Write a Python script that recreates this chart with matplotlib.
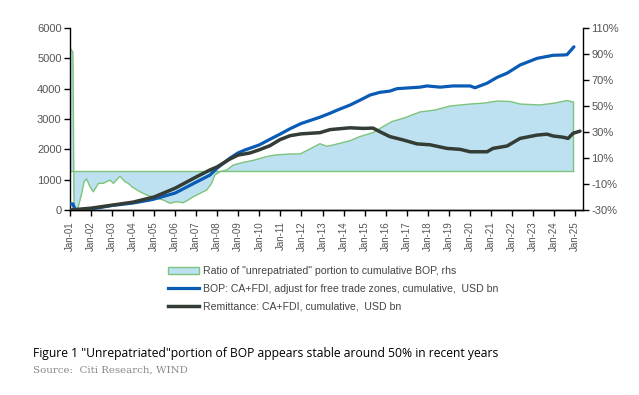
import matplotlib.pyplot as plt
from matplotlib.patches import Patch
from matplotlib.lines import Line2D

# values (decimal year, value)
ratio_t = [2001.00, 2001.14, 2001.19, 2001.33, 2001.38, 2001.56, 2001.67, 2001.79, 2001.95,
           2002.11, 2002.35, 2002.58, 2002.74, 2002.90, 2003.06, 2003.38, 2003.61, 2003.77,
           2003.93, 2004.33, 2004.65, 2005.12, 2005.43, 2005.75, 2006.07, 2006.38, 2006.62,
           2006.86, 2007.18, 2007.50, 2007.73, 2007.89, 2008.13, 2008.45, 2008.76, 2009.08,
           2009.32, 2009.79, 2010.27, 2010.74, 2011.46, 2011.93, 2012.41, 2012.88, 2013.21,
           2013.50, 2014.31, 2014.78, 2015.40, 2015.97, 2016.30, 2016.92, 2017.63, 2018.35,
           2019.06, 2020.01, 2020.72, 2021.29, 2021.91, 2022.39, 2023.34, 2024.05, 2024.62,
           2024.91]
ratio_pct = [94.6, 91.5, -26, -30, -28.5, -17, -8.2, -6.2, -12,
             -16, -9.5, -9.5, -8.2, -7, -9.5, -4, -8.2, -9.5,
             -12, -16, -18.5, -21, -22.3, -24.8, -23.6, -24.4, -22.3,
             -19.8, -17.2, -14.6, -9.5, -3, -0.5, 0.8, 4.6, 6,
             6.9, 8.5, 10.8, 12.3, 13.1, 13.1, 17.0, 21.0, 19.0,
             20, 23.3, 26.5, 29.5, 35.0, 38.0, 41.0, 45.4, 46.9,
             50, 51.5, 52.3, 53.8, 53.5, 51.5, 50.8, 52.3, 54.2,
             53.1]

bop_t = [2001.00, 2001.14, 2001.24, 2002.00, 2003.00, 2004.00, 2004.80, 2005.00, 2006.00,
         2007.00, 2007.65, 2007.99, 2008.60, 2008.98, 2009.32, 2009.98, 2010.50, 2010.98,
         2011.46, 2011.98, 2012.88, 2013.36, 2013.69, 2014.31, 2014.78, 2015.26, 2015.73,
         2016.20, 2016.54, 2017.63, 2017.97, 2018.59, 2019.20, 2020.01, 2020.25, 2020.82,
         2021.29, 2021.77, 2022.39, 2023.20, 2023.96, 2024.43, 2024.62, 2024.95]
bop_usd = [200, 200, 0, 30, 150, 230, 330, 360, 560,
           920, 1150, 1380, 1710, 1880, 1980, 2140, 2330, 2500,
           2680, 2850, 3060, 3190, 3290, 3460, 3620, 3790, 3880,
           3920, 4000, 4050, 4090, 4050, 4090, 4090, 4030, 4180,
           4370, 4510, 4780, 5000, 5100, 5110, 5120, 5380]

rem_t = [2001.00, 2002.00, 2003.00, 2004.00, 2005.00, 2006.00, 2007.00, 2007.65, 2007.99,
         2008.60, 2008.98, 2009.55, 2009.98, 2010.50, 2010.98, 2011.46, 2011.98, 2012.88,
         2013.36, 2013.83, 2014.31, 2014.93, 2015.40, 2015.73, 2016.20, 2016.83, 2017.49,
         2018.11, 2018.92, 2019.54, 2020.01, 2020.82, 2021.10, 2021.77, 2022.39, 2023.20,
         2023.67, 2023.96, 2024.43, 2024.67, 2024.91, 2025.24]
rem_usd = [0, 60, 160, 260, 430, 720, 1090, 1320, 1420,
           1680, 1810, 1880, 1980, 2120, 2320, 2450, 2510, 2550,
           2650, 2680, 2710, 2690, 2700, 2580, 2420, 2310, 2180,
           2150, 2030, 2000, 1920, 1920, 2030, 2110, 2360, 2470,
           2500, 2440, 2400, 2360, 2530, 2600]

years = list(range(2001, 2026))
year_labels = ["Jan-%02d" % (y % 100) for y in years]

blue = "#0a5bb5"
dark = "#333d36"
green = "#7cc47c"
fill = "#bde1f0"
grey = "#555555"

plt.rcParams["font.family"] = ["Liberation Sans", "DejaVu Sans"]

fig = plt.figure(figsize=(6.39, 3.95), dpi=100)
ax = fig.add_axes([70 / 639, 1 - 210 / 395, 513 / 639, 182 / 395])
ax2 = ax.twinx()

# ratio area on the right axis, drawn under the lines
ax2.fill_between(ratio_t, 0, ratio_pct, facecolor=fill, edgecolor="none", zorder=1)
ax2.plot(ratio_t, ratio_pct, color=green, lw=1.0, zorder=2)
ax2.plot([ratio_t[0], ratio_t[-1]], [0, 0], color=green, lw=1.0, zorder=2)
ax2.plot([ratio_t[-1], ratio_t[-1]], [0, ratio_pct[-1]], color=green, lw=1.0, zorder=2)
ax2.set_ylim(-30, 110)
ax2.set_yticks(range(-30, 111, 20))
ax2.set_yticklabels(["%d%%" % v for v in range(-30, 111, 20)])

ax.set_zorder(ax2.get_zorder() + 1)
ax.patch.set_visible(False)
ax.plot(bop_t, bop_usd, color=blue, lw=2.3, solid_capstyle="round", zorder=3)
ax.plot(rem_t, rem_usd, color=dark, lw=2.5, solid_capstyle="round", zorder=4)
ax.set_ylim(0, 6000)
ax.set_yticks(range(0, 6001, 1000))
ax.set_xlim(2001, 2025.38)
ax.set_xticks(years)
ax.set_xticklabels(year_labels, rotation=90)

for a in (ax, ax2):
    a.spines["top"].set_visible(False)
    for s in ("left", "right", "bottom"):
        a.spines[s].set_color("black")
        a.spines[s].set_linewidth(1.0)
    a.tick_params(colors="black", labelcolor=grey, labelsize=8, length=4, width=1, pad=2)
ax.tick_params(axis="x", pad=4, labelsize=7)
ax.spines["right"].set_visible(False)
ax2.spines["left"].set_visible(False)

handles = [
    Patch(facecolor=fill, edgecolor=green, lw=1),
    Line2D([], [], color=blue, lw=2.3),
    Line2D([], [], color=dark, lw=2.5),
]
labels = [
    'Ratio of "unrepatriated" portion to cumulative BOP, rhs',
    "BOP: CA+FDI, adjust for free trade zones, cumulative,  USD bn",
    "Remittance: CA+FDI, cumulative,  USD bn",
]
fig.legend(handles, labels, loc="upper left", bbox_to_anchor=(168 / 639, 1 - 266 / 395),
           frameon=False, fontsize=7.6, labelcolor="#444444", handlelength=2.9,
           handletextpad=0.4, labelspacing=0.72, borderaxespad=0, borderpad=0)

fig.text(33 / 639, 1 - 353 / 395,
         'Figure 1 "Unrepatriated"portion of BOP appears stable around 50% in recent years',
         fontsize=8.7, color="black", va="center", family="Open Sans")
fig.text(33 / 639, 1 - 370 / 395, "Source:  Citi Research, WIND",
         fontsize=7.4, color="#888888", va="center", family="DejaVu Serif")

plt.savefig("out.png", dpi=100)
